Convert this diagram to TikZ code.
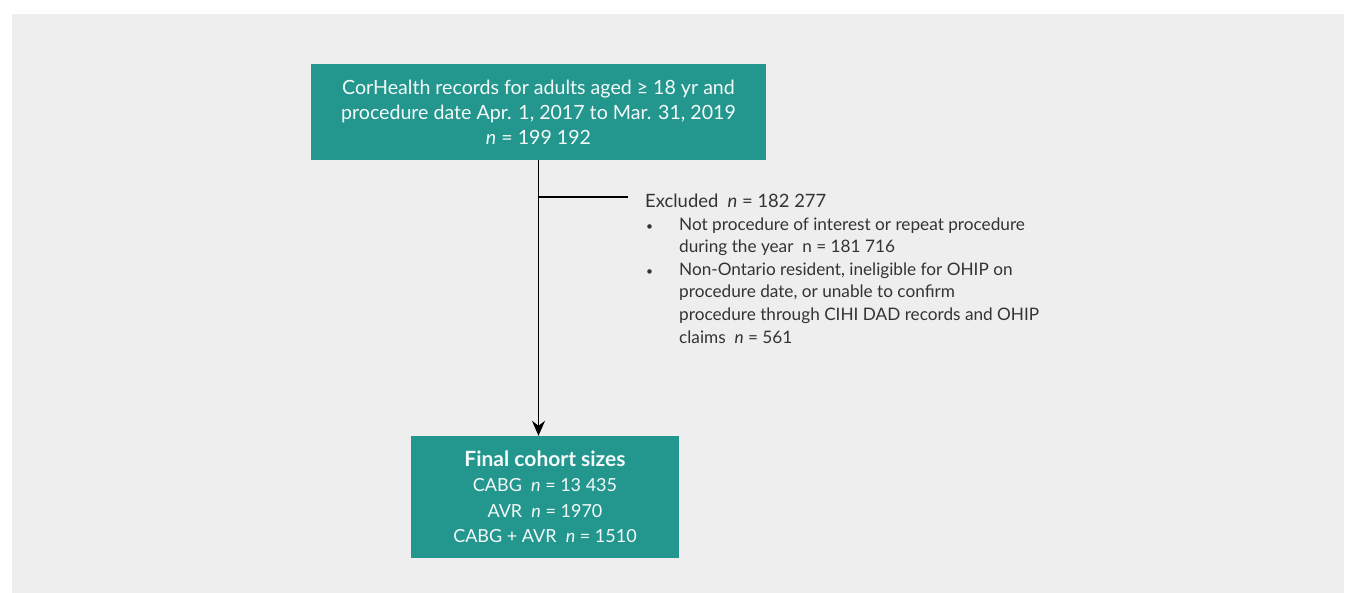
\documentclass[tikz,border=0pt]{standalone}
\usepackage{fontspec}
\setmainfont{Lato}
\usetikzlibrary{positioning}
\usetikzlibrary{arrows.meta}
\definecolor{teal1}{HTML}{23968E}
\definecolor{bggrey}{HTML}{EEEEEE}
\definecolor{textgrey}{HTML}{333333}
\tikzset{
    Box/.style = {rectangle, fill=teal1, text=white!95!teal1, align=center, inner sep=0pt}
}
\tikzset{
    Edge/.style = {draw=black, line width=1.3pt}
}
\newcommand{\dotmark}{{\fontsize{12}{12}\selectfont •}}
\begin{document}
\begin{tikzpicture}[
    x=1pt, y=1pt
]
\useasboundingbox (0,0) rectangle (1345,593);
\fill[bggrey] (12,0) rectangle (1344,579);
% boxes
\node[Box, minimum width=455pt, minimum height=96pt, font=\fontsize{19.6}{25}\selectfont]
    at (538.5,481) (records)
    {CorHealth records for adults aged ≥ 18 yr and\\
     procedure date Apr. 1, 2017 to Mar. 31, 2019\\
     \textit{n} = 199 192};
\node[Box, minimum width=268pt, minimum height=122pt, font=\fontsize{18}{25.5}\selectfont]
    at (545,96) (cohort)
    {{\fontsize{21}{25.5}\selectfont\textbf{Final cohort sizes}}\\
     CABG~ \textit{n} = 13 435\\
     AVR~ \textit{n} = 1970\\
     CABG + AVR~ \textit{n} = 1510};
% exclusions
\node[anchor=west, inner sep=0pt, text=textgrey, font=\fontsize{18.4}{24}\selectfont]
    at (645,392) (excluded) {Excluded~ \textit{n} = 182 277};
\node[below=6pt of excluded.south west, anchor=north west, xshift=1pt, inner sep=0pt,
      text=textgrey, font=\fontsize{17.2}{22.6}\selectfont] (reasons)
    {\begin{tabular}{@{}p{33pt}@{}l@{}}
     \dotmark & Not procedure of interest or repeat procedure\\
       & during the year~ n = 181 716\\
     \dotmark & Non-Ontario resident, ineligible for OHIP on\\
       & procedure date, or unable to confirm\\
       & procedure through CIHI DAD records and OHIP\\
       & claims~ \textit{n} = 561
     \end{tabular}};
% connectors
\coordinate (branch) at (records.south |- 0,396);
\coordinate (branchend) at (628,396);
\path (records.south) edge [Edge, -{Stealth[length=15pt, width=13pt, inset=5pt]}]
    (records.south |- cohort.north);
\path (branch) edge [Edge] (branchend);
\end{tikzpicture}
\end{document}
